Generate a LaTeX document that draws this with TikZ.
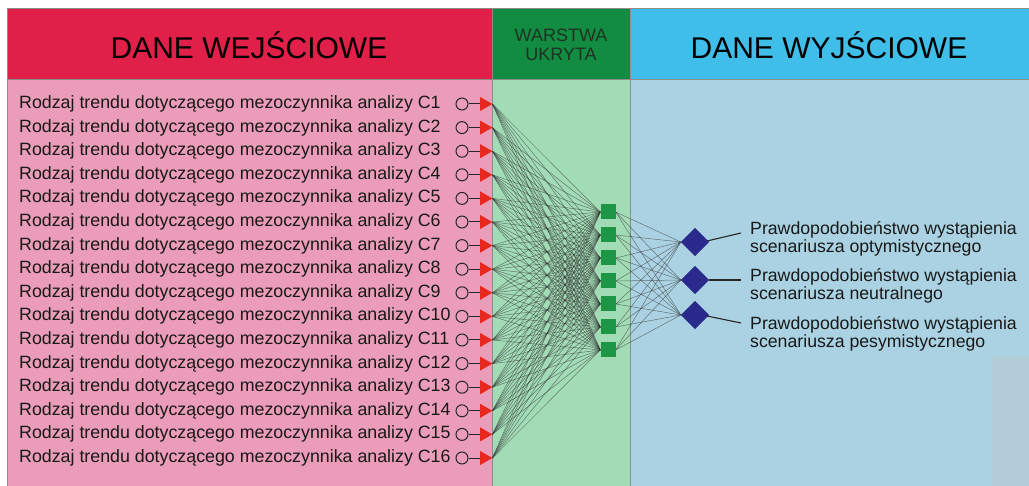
\documentclass[tikz,border=0pt]{standalone}
\usepackage{fontspec}
\setmainfont{Liberation Sans}
\usetikzlibrary{shapes.geometric}
\definecolor{hdrred}{RGB}{224,32,72}
\definecolor{hdrgreen}{RGB}{18,140,64}
\definecolor{hdrblue}{RGB}{62,190,232}
\definecolor{bdpink}{RGB}{234,156,184}
\definecolor{bdgreen}{RGB}{162,220,182}
\definecolor{bdblue}{RGB}{170,210,226}
\definecolor{bdgray}{RGB}{178,204,216}
\definecolor{trired}{RGB}{232,40,30}
\definecolor{hidgreen}{RGB}{28,150,68}
\definecolor{navy}{RGB}{42,42,140}
\definecolor{hdrtext}{RGB}{30,50,35}
\begin{document}
\begin{tikzpicture}[x=1pt,y=-1pt,
  panel/.style={draw=black!45,line width=0.8pt},
  hdrbig/.style={font=\fontsize{30}{34}\selectfont,text=black},
  hdrsmall/.style={font=\fontsize{18}{19}\selectfont,text=hdrtext,align=center},
  intext/.style={font=\fontsize{17.8}{18}\selectfont,anchor=west,inner sep=0pt,text=black!90},
  outtext/.style={font=\fontsize{17.7}{18}\selectfont,anchor=west,inner sep=0pt,align=left,text=black!90},
  incirc/.style={circle,draw=black!85,line width=1pt,minimum size=12pt,inner sep=0pt},
  intri/.style={regular polygon,regular polygon sides=3,shape border rotate=-90,fill=trired,minimum size=16pt,inner sep=0pt},
  hid/.style={rectangle,fill=hidgreen,minimum size=15pt,inner sep=0pt},
  dia/.style={diamond,fill=navy,minimum size=28pt,inner sep=0pt},
  net/.style={draw=black!80,line width=0.5pt,opacity=0.6},
  outline/.style={draw=black!85,line width=1.1pt}]
\useasboundingbox (0,0) rectangle (1029,486);
\fill[white] (0,0) rectangle (1029,486);
% panels
\path[panel,fill=bdpink] (7,79) rectangle (492,486);
\path[panel,fill=bdgreen] (492,79) rectangle (630,486);
\path[panel,fill=bdblue] (630,79) rectangle (1029,486);
\fill[bdgray] (992,356) rectangle (1029,486);
\path[panel,fill=hdrred] (7,8) rectangle (492,79);
\path[panel,fill=hdrgreen] (492,8) rectangle (630,79);
\path[panel,fill=hdrblue] (630,8) rectangle (1029,79);
% headers
\node[hdrbig] (hin) at (249,45) {DANE WEJŚCIOWE};
\node[hdrsmall] (hhid) at (561,45) {WARSTWA\\UKRYTA};
\node[hdrbig] (hout) at (829,45) {DANE WYJŚCIOWE};
% hidden layer
\foreach \j in {1,...,7} {
  \pgfmathsetmacro\yy{212+(\j-1)*23}
  \node[hid] (h\j) at (608,\yy) {};
}
% output layer
\node[dia] (o1) at (695,242) {};
\node[dia] (o2) at (695,280) {};
\node[dia] (o3) at (695,315) {};
% inputs
\foreach \i in {1,...,16} {
  \pgfmathsetmacro\yy{104+(\i-1)*23.6}
  \node[intext] (t\i) at (19,\yy) {Rodzaj trendu dotyczącego mezoczynnika analizy C\i};
  \node[incirc] (c\i) at (462,\yy) {};
  \node[intri] (a\i) at (484,\yy) {};
  \draw[black!85,line width=1pt] (c\i) -- (a\i);
}
% connections input -> hidden
\foreach \i in {1,...,16} {
  \foreach \j in {1,...,7} {
    \draw[net] (a\i.east) -- (h\j.west);
  }
}
% connections hidden -> output
\foreach \j in {1,...,7} {
  \foreach \k in {1,2,3} {
    \draw[net] (h\j.east) -- (o\k.west);
  }
}
% redraw nodes on top
\foreach \j in {1,...,7} {
  \pgfmathsetmacro\yy{212+(\j-1)*23}
  \node[hid] at (608,\yy) {};
}
\foreach \i in {1,...,16} {
  \pgfmathsetmacro\yy{104+(\i-1)*23.6}
  \node[intri] at (484,\yy) {};
}
\node[dia] at (695,242) {};
\node[dia] at (695,280) {};
\node[dia] at (695,315) {};
% output lines and texts
\coordinate (e1) at (741,233);
\coordinate (e2) at (741,280);
\coordinate (e3) at (741,323);
\draw[outline] (o1.center) ++(12,-1) -- (e1);
\draw[outline] (o2.east) -- (e2);
\draw[outline] (o3.center) ++(12,1) -- (e3);
\node[outtext] (r1) at (750,239) {Prawdopodobieństwo wystąpienia\\scenariusza optymistycznego};
\node[outtext] (r2) at (750,286) {Prawdopodobieństwo wystąpienia\\scenariusza neutralnego};
\node[outtext] (r3) at (750,334) {Prawdopodobieństwo wystąpienia\\scenariusza pesymistycznego};
\end{tikzpicture}
\end{document}
